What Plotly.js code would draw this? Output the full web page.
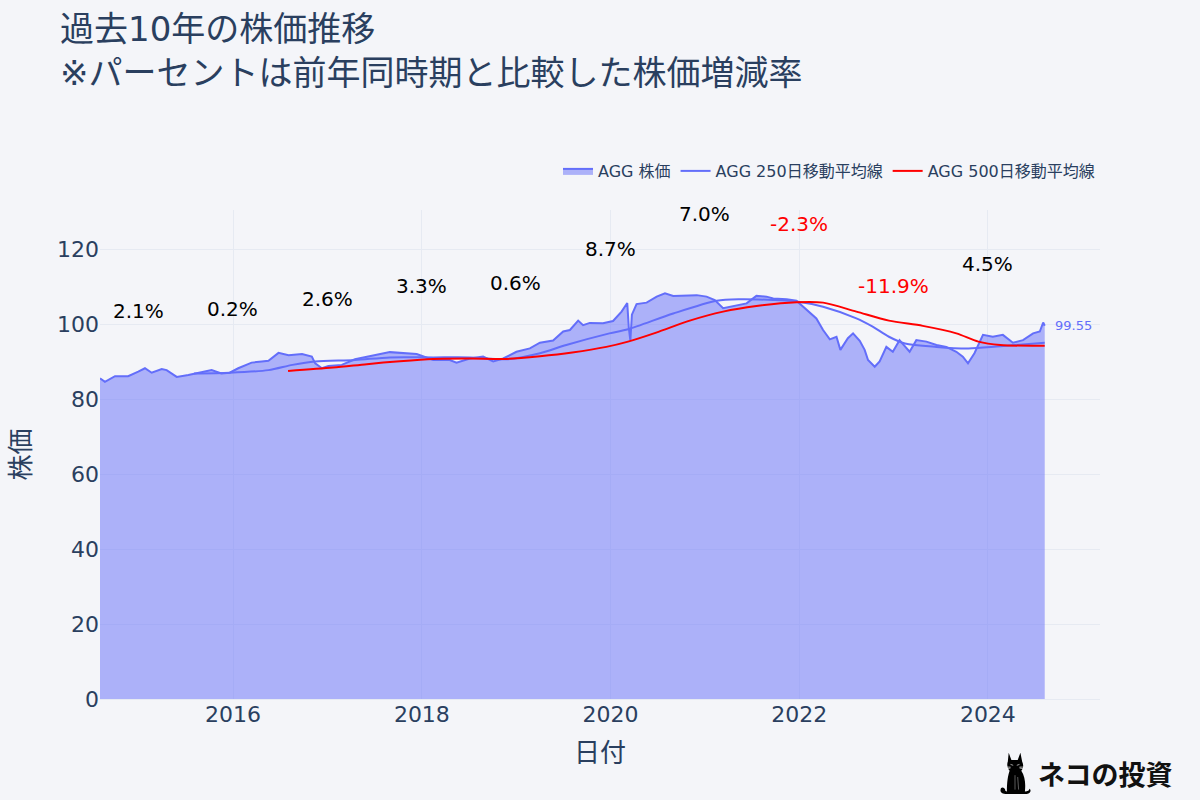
<!DOCTYPE html>
<html>
<head>
<meta charset="utf-8">
<script src="https://cdn.plot.ly/plotly-3.0.1.min.js"></script>
<style>html,body{margin:0;padding:0;background:#f4f5f9;}#chart{width:1200px;height:800px;}</style>
</head>
<body>
<div id="chart"></div>
<script>
// ---- data ----
const priceDates = ["2014-08-04","2014-08-23","2014-10-01","2014-11-21","2014-12-30","2015-01-25","2015-02-20","2015-03-31","2015-04-19","2015-05-28","2015-07-12","2015-09-15","2015-10-10","2015-11-17","2015-12-19","2016-01-21","2016-03-13","2016-04-21","2016-05-17","2016-06-25","2016-08-03","2016-09-24","2016-11-01","2016-11-14","2016-12-10","2017-01-04","2017-02-25","2017-04-17","2017-06-02","2017-08-30","2017-12-12","2018-02-14","2018-04-19","2018-05-15","2018-07-06","2018-08-26","2018-10-04","2018-11-12","2019-01-02","2019-02-23","2019-04-03","2019-05-24","2019-07-02","2019-07-28","2019-08-29","2019-09-17","2019-10-13","2019-12-03","2020-01-11","2020-02-13","2020-03-06","2020-03-12","2020-03-18","2020-03-24","2020-04-11","2020-05-20","2020-06-28","2020-07-30","2020-08-31","2020-10-22","2020-11-30","2021-01-07","2021-02-08","2021-03-12","2021-04-20","2021-06-11","2021-07-19","2021-08-27","2021-09-22","2021-11-13","2021-12-21","2022-01-16","2022-02-11","2022-03-08","2022-04-03","2022-04-29","2022-05-25","2022-06-09","2022-07-08","2022-07-28","2022-08-23","2022-09-11","2022-09-24","2022-10-20","2022-11-08","2022-12-04","2022-12-29","2023-01-24","2023-03-04","2023-03-30","2023-05-08","2023-06-16","2023-07-24","2023-09-01","2023-09-26","2023-10-16","2023-11-10","2023-12-13","2024-01-20","2024-02-28","2024-04-07","2024-05-16","2024-06-24","2024-07-20","2024-08-02","2024-08-08"];
const priceValues = [85.5,84.6,86.1,86.1,87.3,88.2,87.0,88.0,87.7,85.9,86.4,87.3,87.7,86.8,87.0,88.2,89.7,90.0,90.2,92.3,91.7,92.0,91.3,89.5,88.2,88.8,89.1,90.6,91.3,92.5,92.0,90.4,90.4,89.7,90.8,91.3,90.0,90.8,92.6,93.5,95.0,95.6,98.0,98.4,100.9,99.7,100.3,100.2,100.8,103.3,105.6,99.0,95.6,102.5,105.3,105.7,107.3,108.2,107.5,107.5,107.7,107.3,106.4,104.2,104.8,105.5,107.5,107.3,106.8,106.6,106.2,104.6,102.8,101.5,98.4,95.9,96.6,93.1,96.2,97.5,95.5,93.1,90.4,88.6,90.0,93.9,92.6,95.7,92.6,95.7,95.3,94.4,93.9,92.6,91.3,89.5,92.2,97.1,96.6,97.1,95.0,95.7,97.5,98.0,100.4,99.55];

const ma250Dates = ["2015-08-03","2015-12-19","2016-05-17","2016-08-18","2016-11-14","2017-04-17","2017-08-30","2018-02-14","2018-07-06","2018-11-25","2019-04-03","2019-07-14","2019-12-28","2020-03-09","2020-08-31","2021-02-15","2021-05-15","2021-09-22","2021-12-21","2022-04-03","2022-08-10","2022-10-12","2022-12-14","2023-02-14","2023-06-16","2023-10-18","2024-02-18","2024-08-08"];
const ma250Values = [86.8,87.0,87.7,89.1,90.0,90.4,91.1,91.1,91.1,90.6,92.2,94.4,97.5,98.6,102.8,106.2,106.6,106.4,106.0,104.6,101.5,99.3,96.6,94.8,93.9,93.5,94.1,95.0];

const ma500Dates = ["2016-08-01","2017-01-22","2017-06-02","2017-10-08","2018-02-14","2018-07-06","2018-11-25","2019-04-03","2019-08-06","2019-12-16","2020-03-09","2020-06-26","2020-11-03","2021-03-12","2021-07-19","2021-12-21","2022-04-03","2022-08-10","2022-12-14","2023-04-24","2023-09-01","2023-11-25","2024-02-18","2024-08-08"];
const ma500Values = [87.5,88.4,89.3,90.1,90.7,90.8,90.7,91.4,92.4,93.9,95.3,97.7,100.9,103.3,104.8,105.8,105.7,103.3,100.9,99.5,97.5,95.3,94.4,94.2];

const pctDates = ["2014-12-31","2015-12-31","2016-12-31","2017-12-31","2018-12-31","2019-12-31","2020-12-31","2021-12-31","2022-12-31","2023-12-31"];
const pctLabels = ["2.1%","0.2%","2.6%","3.3%","0.6%","8.7%","7.0%","-2.3%","-11.9%","4.5%"];
const pctY = [103.5,104.0,106.7,110.1,110.9,120.0,129.3,126.7,110.1,116.0];

const lastLabel = "99.55";

// ---- layout helpers ----
const W = 1200, H = 800;
const M = {l: 100, r: 100, t: 210, b: 101, pad: 0};
const px = x => (x - M.l) / (W - M.l - M.r);
const py = y => (H - M.b - y) / (H - M.t - M.b);

const blue = '#636EFA';
const bg = '#f4f5f9';
const grid = '#e6eaf2';
const fontFam = '"DejaVu Sans", verdana, "Noto Sans CJK JP", sans-serif';

const traces = [
  {
    x: priceDates, y: priceValues, type: 'scatter', mode: 'lines',
    name: 'AGG 株価', fill: 'tozeroy',
    line: {color: blue, width: 2}, fillcolor: 'rgba(99,110,250,0.5)'
  },
  {
    x: ma250Dates, y: ma250Values, type: 'scatter', mode: 'lines',
    name: 'AGG 250日移動平均線', line: {color: blue, width: 2, shape: 'spline', smoothing: 0.8}
  },
  {
    x: ma500Dates, y: ma500Values, type: 'scatter', mode: 'lines',
    name: 'AGG 500日移動平均線', line: {color: 'red', width: 2, shape: 'spline', smoothing: 0.8}
  }
];

const annotations = pctLabels.map((t, i) => ({
  x: pctDates[i], y: pctY[i], xref: 'x', yref: 'y', text: t, showarrow: false,
  font: {size: 20, color: t.startsWith('-') ? 'red' : 'black', family: fontFam},
  xanchor: 'center', yanchor: 'middle'
}));
annotations.push({
  x: priceDates[priceDates.length - 1], y: priceValues[priceValues.length - 1],
  xref: 'x', yref: 'y', text: lastLabel, showarrow: false, xanchor: 'left', xshift: 8,
  font: {size: 13, color: blue, family: fontFam}
});
annotations.push({
  x: px(1036), y: py(773), xref: 'paper', yref: 'paper', text: 'ネコの投資',
  showarrow: false, xanchor: 'left', yanchor: 'middle',
  font: {size: 27, color: '#111', family: '"Noto Sans CJK JP", sans-serif', weight: 600}
});

const catSvg = "<svg xmlns='http://www.w3.org/2000/svg' viewBox='0 0 40 50'>" +
  "<path d='M13 3 L16 11 L23 11 L26 3 L28 13 C30 17 29 21 27 23 C31 29 32 37 31 46 C34 46 36 45 36 43 C38 44 38 48 33 49 L12 49 C8 49 3 48 4 44 C4 41 8 41 9 44 C9 46 10 46 11 46 C11 36 12 29 14 23 C11 20 11 15 12 13 Z' fill='black'/>" +
  "<path d='M15 16 L18 17 M22 17 L25 16 M10 19 L15 19 M25 19 L30 19 M10 21 L15 20 M25 20 L30 21' stroke='white' stroke-width='0.7'/>" +
  "<path d='M20 28 L20 44 M23 30 L24 44' stroke='white' stroke-width='0.4'/>" +
  "</svg>";

const layout = {
  width: W, height: H,
  margin: M,
  paper_bgcolor: bg, plot_bgcolor: bg,
  font: {family: fontFam, color: '#2a3f5f'},
  title: {
    text: '過去10年の株価推移<br>※パーセントは前年同時期と比較した株価増減率',
    x: 0.05, xanchor: 'left', yref: 'container', y: 0.949, yanchor: 'top',
    font: {size: 34, color: '#2a3f5f', family: fontFam}
  },
  xaxis: {
    type: 'date', range: ['2014-08-04', '2025-03-10'],
    title: {text: '日付', font: {size: 26}, standoff: 17},
    automargin: true,
    tickfont: {size: 22}, gridcolor: grid, zeroline: false, showline: false,
    dtick: 'M24', tick0: '2016-01-01', tickformat: '%Y', ticks: ''
  },
  yaxis: {
    range: [0, 130.4],
    title: {text: '株価', font: {size: 26}, standoff: 18},
    automargin: true,
    tickfont: {size: 22}, gridcolor: grid, zeroline: true, zerolinecolor: grid,
    dtick: 20, ticks: ''
  },
  legend: {
    orientation: 'h', x: 1, xanchor: 'right', y: 1.045, yanchor: 'bottom',
    font: {size: 16, color: '#2a3f5f'}, bgcolor: 'rgba(0,0,0,0)'
  },
  showlegend: true,
  annotations: annotations,
  images: [{
    source: 'data:image/svg+xml;utf8,' + encodeURIComponent(catSvg),
    xref: 'paper', yref: 'paper', x: px(996), y: py(750), sizex: px(1034) - px(996), sizey: py(750) - py(795),
    xanchor: 'left', yanchor: 'top', sizing: 'contain', layer: 'above'
  }]
};

Plotly.newPlot('chart', traces, layout, {displayModeBar: false, staticPlot: true});
</script>
</body>
</html>
